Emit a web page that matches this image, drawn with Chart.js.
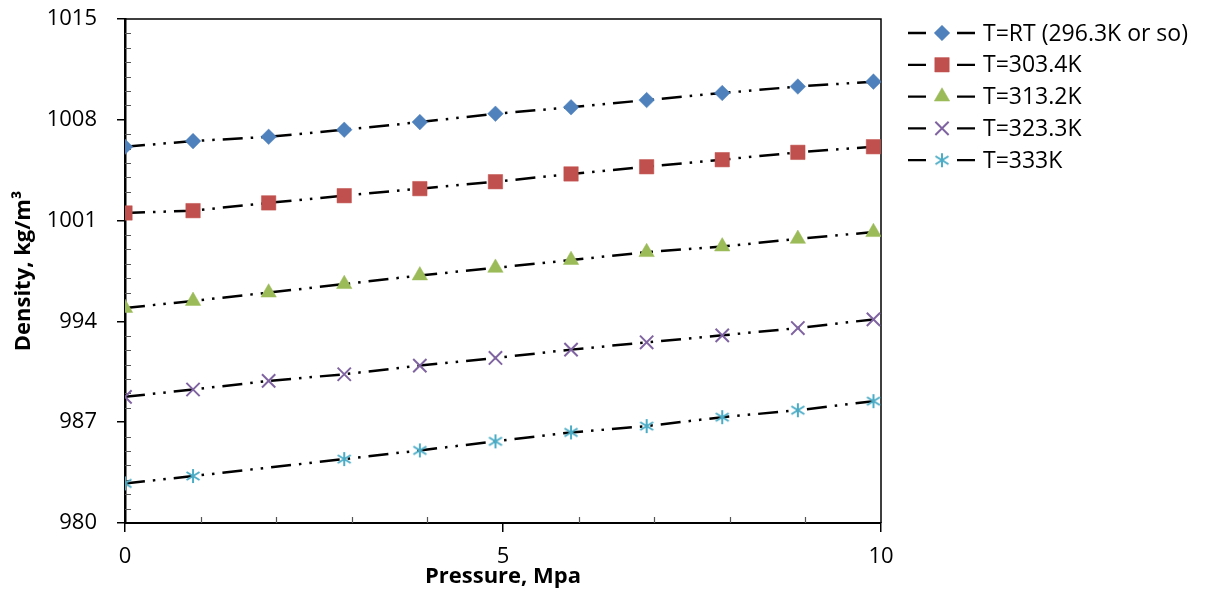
<!DOCTYPE html>
<html>
<head>
<meta charset="utf-8">
<script src="https://cdn.jsdelivr.net/npm/chart.js@4.4.1/dist/chart.umd.min.js"></script>
<style>
  html, body { margin: 0; padding: 0; background: #fff; }
  #wrap { width: 1212px; height: 590px; }
</style>
</head>
<body>
<div id="wrap"><canvas id="densityChart"></canvas></div>
<script>
// pressure (MPa) and density (kg/m3)
const pressure = [0, 0.9, 1.9, 2.9, 3.9, 4.9, 5.9, 6.9, 7.9, 8.9, 9.9];
const pressure333 = [0, 0.9, 2.9, 3.9, 4.9, 5.9, 6.9, 7.9, 8.9, 9.9];
const seriesLabels = ['T=RT (296.3K or so)', 'T=303.4K', 'T=313.2K', 'T=323.3K', 'T=333K'];
const densityRT  = [1006.13, 1006.52, 1006.82, 1007.31, 1007.84, 1008.42, 1008.87, 1009.37, 1009.86, 1010.31, 1010.65];
const density303 = [1001.53, 1001.69, 1002.23, 1002.73, 1003.22, 1003.70, 1004.24, 1004.74, 1005.23, 1005.74, 1006.13];
const density313 = [994.93, 995.42, 996.00, 996.59, 997.19, 997.72, 998.26, 998.81, 999.20, 999.73, 1000.20];
const density323 = [988.76, 989.27, 989.87, 990.33, 990.93, 991.46, 992.04, 992.55, 993.03, 993.54, 994.14];
const density333 = [982.75, 983.26, 984.44, 985.04, 985.67, 986.29, 986.73, 987.35, 987.83, 988.46];
const xTicks = [0, 5, 10];
const yTicks = [980, 987, 994, 1001, 1008, 1015];

const markerColors = ['#4F81BD', '#C0504D', '#9BBB59', '#8064A2', '#4BACC6'];
const lineDash = [20, 8, 2.5, 8, 2.5, 8];

Chart.defaults.font.family = "'Open Sans', sans-serif";
Chart.defaults.color = '#000';

// asterisk marker (vertical bar + two diagonals)
function asteriskMarker(color) {
    const c = document.createElement('canvas');
    c.width = 16; c.height = 16;
    const g = c.getContext('2d');
    g.strokeStyle = color;
    g.lineWidth = 2;
    g.beginPath();
    g.moveTo(8, 1); g.lineTo(8, 15);
    g.moveTo(1.5, 4); g.lineTo(14.5, 12);
    g.moveTo(1.5, 12); g.lineTo(14.5, 4);
    g.stroke();
    return c;
}

function toPoints(xs, ys) {
    return xs.map((x, i) => ({ x, y: ys[i] }));
}

function series(i, xs, ys, style, radius, borderWidth) {
    return {
        label: seriesLabels[i],
        data: toPoints(xs, ys),
        showLine: true,
        borderColor: '#000',
        borderWidth: 2.5,
        borderDash: lineDash,
        pointStyle: style,
        pointRadius: radius,
        pointHoverRadius: radius,
        pointBackgroundColor: markerColors[i],
        pointBorderColor: markerColors[i],
        pointBorderWidth: borderWidth
    };
}

const datasets = [
    series(0, pressure, densityRT, 'rectRot', 7.8, 0.5),
    series(1, pressure, density303, 'rect', 10.2, 0.5),
    series(2, pressure, density313, 'triangle', 8.9, 0.5),
    series(3, pressure, density323, 'crossRot', 9.4, 2),
    series(4, pressure333, density333, asteriskMarker(markerColors[4]), 8, 0)
];

// frame on top/right plus Excel-like minor ticks inside the plot
const framePlugin = {
    id: 'frame',
    beforeDatasetsDraw(chart) {
        const { ctx, chartArea: a, scales: { x, y } } = chart;
        ctx.save();
        ctx.strokeStyle = '#000';
        ctx.lineWidth = 1.5;
        ctx.beginPath();
        ctx.moveTo(a.left, a.top);
        ctx.lineTo(a.right, a.top);
        ctx.lineTo(a.right, a.bottom);
        ctx.stroke();

        ctx.strokeStyle = '#555';
        ctx.lineWidth = 1.2;
        ctx.beginPath();
        for (let v = x.min; v <= x.max; v += 1) {
            if (xTicks.includes(v)) continue;
            const px = Math.round(x.getPixelForValue(v)) + 0.5;
            ctx.moveTo(px, a.bottom);
            ctx.lineTo(px, a.bottom - 6);
        }
        for (let v = y.min; v <= y.max; v += 1) {
            if (yTicks.includes(v)) continue;
            const py = Math.round(y.getPixelForValue(v)) + 0.5;
            ctx.moveTo(a.left, py);
            ctx.lineTo(a.left + 6, py);
        }
        ctx.stroke();
        ctx.restore();
    }
};

// legend: "— marker —  label" to the right of the plot
const sideLegend = {
    id: 'sideLegend',
    afterDraw(chart) {
        const { ctx, chartArea: a } = chart;
        const x0 = a.right + 27;
        ctx.save();
        chart.data.datasets.forEach((ds, i) => {
            const y = a.top + 14 + i * 31.8;
            ctx.setLineDash([]);
            ctx.strokeStyle = '#000';
            ctx.lineWidth = 2.3;
            ctx.beginPath();
            ctx.moveTo(x0, y); ctx.lineTo(x0 + 18, y);
            ctx.moveTo(x0 + 49, y); ctx.lineTo(x0 + 67, y);
            ctx.stroke();

            ctx.fillStyle = ds.pointBackgroundColor;
            ctx.strokeStyle = ds.pointBorderColor;
            ctx.lineWidth = ds.pointBorderWidth;
            Chart.helpers.drawPoint(ctx, {
                pointStyle: ds.pointStyle,
                radius: ds.pointRadius,
                borderWidth: ds.pointBorderWidth,
                rotation: 0
            }, x0 + 34, y);

            ctx.fillStyle = '#000';
            ctx.font = "23px 'Open Sans', sans-serif";
            ctx.textBaseline = 'middle';
            ctx.textAlign = 'left';
            ctx.fillText(ds.label, x0 + 75, y + 1);
        });
        ctx.restore();
    }
};

new Chart(document.getElementById('densityChart'), {
    type: 'scatter',
    data: { datasets },
    options: {
        responsive: true,
        maintainAspectRatio: false,
        animation: false,
        layout: { padding: { top: 19, right: 331, left: 0, bottom: 0 } },
        plugins: {
            legend: { display: false },
            tooltip: { enabled: false }
        },
        scales: {
            x: {
                type: 'linear',
                min: 0,
                max: 10,
                afterBuildTicks: s => { s.ticks = xTicks.map(v => ({ value: v })); },
                afterFit: s => { s.height = 67; },
                ticks: { font: { size: 22 }, color: '#000', padding: 12, maxRotation: 0, callback: v => String(v) },
                grid: { display: true, drawOnChartArea: false, drawTicks: true, tickLength: 9, color: '#000', lineWidth: 1.5 },
                border: { display: true, color: '#000', width: 2 },
                title: {
                    display: true,
                    text: 'Pressure, Mpa',
                    font: { size: 22, weight: 'bold' },
                    color: '#000',
                    padding: { top: 0, bottom: 0 }
                }
            },
            y: {
                type: 'linear',
                min: 980,
                max: 1015,
                afterBuildTicks: s => { s.ticks = yTicks.map(v => ({ value: v })); },
                afterFit: s => { s.width = 125; s.paddingTop = 14; s.paddingBottom = 14; },
                ticks: { font: { size: 22 }, color: '#000', padding: 20, callback: v => String(v) },
                grid: { display: true, drawOnChartArea: false, drawTicks: true, tickLength: 8, color: '#000', lineWidth: 1.5 },
                border: { display: true, color: '#000', width: 2.5 },
                title: {
                    display: true,
                    text: 'Density, kg/m³',
                    font: { size: 22, weight: 'bold' },
                    color: '#000',
                    padding: { top: 11, bottom: 0 }
                }
            }
        }
    },
    plugins: [framePlugin, sideLegend]
});
</script>
</body>
</html>
